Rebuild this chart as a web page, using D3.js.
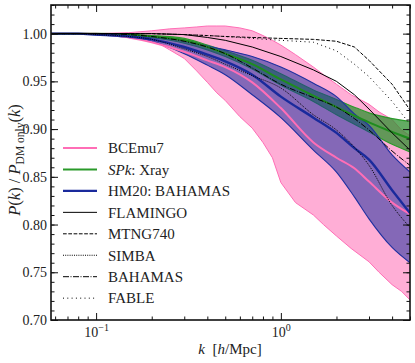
<!DOCTYPE html>
<meta charset="utf-8">
<style>
  body { margin: 0; background: #fff; }
  text { font-family: "Liberation Serif", "Times New Roman", serif; fill: #222; }
  .axis path { display: none; }
  .axis line { stroke: #111; stroke-width: 1; }
</style>
<body>
<svg id="chart" width="415" height="363"></svg>
<script src="https://cdn.jsdelivr.net/npm/d3@7/dist/d3.min.js"></script>
<script>
// k grid shared by the model bands and simulation curves
var kGrid = [0.057, 0.08, 0.1, 0.15, 0.2, 0.3, 0.4, 0.5, 0.7, 1.0, 1.5, 2.0, 2.5, 3.0, 4.0, 5.0];

// SP(k) Xray band
var spkHi  = [1.000, 1.000, 1.000, 0.999, 0.998, 0.995, 0.988, 0.982, 0.972, 0.958, 0.941, 0.931, 0.923, 0.917, 0.911, 0.908];
var spkMid = [1.000, 1.000, 1.000, 0.999, 0.997, 0.993, 0.986, 0.979, 0.968, 0.952, 0.935, 0.923, 0.914, 0.907, 0.897, 0.890];
var spkLo  = [1.000, 1.000, 1.000, 0.998, 0.996, 0.990, 0.983, 0.976, 0.963, 0.946, 0.929, 0.915, 0.905, 0.897, 0.884, 0.876];

// HM20 BAHAMAS band
var hmHi  = [1.000, 1.000, 0.999, 0.998, 0.996, 0.993, 0.987, 0.983, 0.976, 0.965, 0.948, 0.934, 0.916, 0.904, 0.873, 0.855];
var hmMid = [1.000, 1.000, 0.999, 0.997, 0.994, 0.986, 0.978, 0.971, 0.957, 0.934, 0.912, 0.896, 0.880, 0.868, 0.836, 0.812];
var hmLo  = [1.000, 1.000, 0.999, 0.996, 0.992, 0.979, 0.967, 0.957, 0.936, 0.912, 0.878, 0.855, 0.829, 0.806, 0.776, 0.760];

// BCEmu7 median line
var bceMid = [1.000, 1.000, 1.000, 0.996, 0.991, 0.981, 0.972, 0.965, 0.949, 0.922, 0.886, 0.870, 0.859, 0.845, 0.823, 0.811];

// hydro simulations
var flamingo = [1.000, 1.000, 1.000, 1.000, 1.000, 0.999, 0.996, 0.993, 0.986, 0.976, 0.962, 0.950, 0.936, 0.921, 0.896, 0.878];
var mtng     = [1.000, 1.000, 1.000, 1.000, 1.000, 0.999, 0.998, 0.997, 0.996, 0.995, 0.994, 0.992, 0.986, 0.972, 0.947, 0.920];
var simba    = [1.000, 1.000, 0.999, 0.997, 0.994, 0.984, 0.976, 0.968, 0.956, 0.943, 0.915, 0.899, 0.881, 0.862, 0.820, 0.797];
var bahamas  = [1.000, 1.000, 1.000, 0.999, 0.997, 0.992, 0.986, 0.979, 0.964, 0.947, 0.933, 0.923, 0.911, 0.899, 0.877, 0.862];
var fable    = [1.000, 1.000, 1.000, 1.000, 1.000, 0.999, 0.998, 0.997, 0.995, 0.993, 0.991, 0.982, 0.968, 0.955, 0.929, 0.905];

// BCEmu7 envelope, its own k grid
var bceK  = [0.057, 0.1, 0.15, 0.2, 0.25, 0.3, 0.35, 0.4, 0.45, 0.5, 0.6, 0.7, 0.8, 0.9, 1.0, 1.2, 1.5, 1.7, 2.0, 2.4, 3.0, 3.4, 4.0, 4.5, 5.0];
var bceHi = [1.000, 1.000, 1.001, 1.003, 1.005, 1.006, 1.007, 1.008, 1.008, 1.008, 1.006, 1.003, 0.998, 0.993, 0.988, 0.978, 0.965, 0.957, 0.947, 0.936, 0.926, 0.918, 0.910, 0.899, 0.893];
var bceLo = [1.000, 0.999, 0.997, 0.994, 0.983, 0.974, 0.961, 0.949, 0.938, 0.930, 0.913, 0.901, 0.886, 0.870, 0.844, 0.823, 0.810, 0.800, 0.788, 0.775, 0.761, 0.750, 0.737, 0.730, 0.721];

var yTicks = [0.70, 0.75, 0.80, 0.85, 0.90, 0.95, 1.00];
var xTicks = [0.1, 1];
var xTickExp = ["\u22121", "0"];

var svg = d3.select("#chart"),
    pLeft = 51, pRight = 410, pTop = 5, pBottom = 320;

var x = d3.scaleLog().domain([0.057, 5]).range([pLeft, pRight]);
var y = d3.scaleLinear().domain([0.70, 1.03]).range([pBottom, pTop]);

function pairs(ks, vs) { return ks.map(function(k, i) { return [k, vs[i]]; }); }
function band(ks, lo, hi) { return ks.map(function(k, i) { return {k: k, lo: lo[i], hi: hi[i]}; }); }

var area = d3.area()
    .x(function(d) { return x(d.k); })
    .y0(function(d) { return y(d.lo); })
    .y1(function(d) { return y(d.hi); });
var areaSmooth = d3.area()
    .curve(d3.curveMonotoneX)
    .x(function(d) { return x(d.k); })
    .y0(function(d) { return y(d.lo); })
    .y1(function(d) { return y(d.hi); });
var line = d3.line()
    .x(function(d) { return x(d[0]); })
    .y(function(d) { return y(d[1]); });
var lineSmooth = d3.line()
    .curve(d3.curveMonotoneX)
    .x(function(d) { return x(d[0]); })
    .y(function(d) { return y(d[1]); });

svg.append("clipPath").attr("id", "clip")
  .append("rect").attr("x", pLeft).attr("y", pTop)
  .attr("width", pRight - pLeft).attr("height", pBottom - pTop);

var g = svg.append("g").attr("clip-path", "url(#clip)");

// bands
g.append("path").datum(band(bceK, bceLo, bceHi))
  .attr("d", area).attr("fill", "#ffaed6");
g.append("path").datum(pairs(bceK, bceHi)).attr("d", line)
  .attr("fill", "none").attr("stroke", "#ff6eb6").attr("stroke-width", 1);
g.append("path").datum(pairs(bceK, bceLo)).attr("d", line)
  .attr("fill", "none").attr("stroke", "#ff6eb6").attr("stroke-width", 1);

g.append("path").datum(band(kGrid, spkLo, spkHi))
  .attr("d", areaSmooth).attr("fill", "#2f8f2f").attr("fill-opacity", 0.75);
[spkHi, spkLo].forEach(function(s) {
  g.append("path").datum(pairs(kGrid, s)).attr("d", lineSmooth)
    .attr("fill", "none").attr("stroke", "#2a9a2a").attr("stroke-width", 1.1);
});

g.append("path").datum(band(kGrid, hmLo, hmHi))
  .attr("d", areaSmooth).attr("fill", "#1f2f9f").attr("fill-opacity", 0.55);
[hmHi, hmLo].forEach(function(s) {
  g.append("path").datum(pairs(kGrid, s)).attr("d", lineSmooth)
    .attr("fill", "none").attr("stroke", "#1e2fa0").attr("stroke-width", 1.1);
});

// median lines
g.append("path").datum(pairs(kGrid, bceMid)).attr("d", lineSmooth)
  .attr("fill", "none").attr("stroke", "#ff6eb6").attr("stroke-width", 2);
g.append("path").datum(pairs(kGrid, spkMid)).attr("d", lineSmooth)
  .attr("fill", "none").attr("stroke", "#1e8c1e").attr("stroke-width", 2);
g.append("path").datum(pairs(kGrid, hmMid)).attr("d", lineSmooth)
  .attr("fill", "none").attr("stroke", "#1a2a9c").attr("stroke-width", 2.4);

// simulations
var sims = [
  {name: "FLAMINGO", vals: flamingo, dash: null,          smooth: false},
  {name: "MTNG740",  vals: mtng,     dash: "3.7,1.6",     smooth: false},
  {name: "SIMBA",    vals: simba,    dash: "1,1.2",       smooth: true},
  {name: "BAHAMAS",  vals: bahamas,  dash: "6,1.5,1,1.5", smooth: true},
  {name: "FABLE",    vals: fable,    dash: "1,3.3",       smooth: false}
];
sims.forEach(function(s) {
  g.append("path").datum(pairs(kGrid, s.vals))
    .attr("d", s.smooth ? lineSmooth : line)
    .attr("fill", "none").attr("stroke", "#000").attr("stroke-width", 1)
    .attr("stroke-dasharray", s.dash);
});

// axes, ticks pointing inwards on all four sides
var yMinor = d3.range(0.70, 1.0301, 0.01);
var xMinor = [0.06, 0.07, 0.08, 0.09, 0.2, 0.3, 0.4, 0.5, 0.6, 0.7, 0.8, 0.9, 2, 3, 4, 5];

function addAxis(axis, tx, ty) {
  return svg.append("g").attr("class", "axis")
    .attr("transform", "translate(" + tx + "," + ty + ")").call(axis);
}
addAxis(d3.axisLeft(y).tickValues(yMinor).tickSize(-3.5).tickFormat(""), pLeft, 0);
addAxis(d3.axisRight(y).tickValues(yMinor).tickSize(-3.5).tickFormat(""), pRight, 0);
addAxis(d3.axisRight(y).tickValues(yTicks).tickSize(-7).tickFormat(""), pRight, 0);
var yAx = addAxis(d3.axisLeft(y).tickValues(yTicks).tickSize(-7).tickPadding(4).tickFormat(d3.format(".2f")), pLeft, 0);
yAx.selectAll("text").attr("font-size", 14).attr("fill", "#222");

addAxis(d3.axisBottom(x).tickValues(xMinor).tickSize(-3.5).tickFormat(""), 0, pBottom);
addAxis(d3.axisTop(x).tickValues(xMinor).tickSize(-3.5).tickFormat(""), 0, pTop);
addAxis(d3.axisTop(x).tickValues(xTicks).tickSize(-7).tickFormat(""), 0, pTop);
var xAx = addAxis(d3.axisBottom(x).tickValues(xTicks).tickSize(-7).tickFormat(""), 0, pBottom);
xAx.selectAll(".tick").each(function(d, i) {
  var t = d3.select(this).append("text")
    .attr("y", 17).attr("text-anchor", "middle").attr("font-size", 14)
    .attr("fill", "#222");
  t.append("tspan").text("10");
  t.append("tspan").attr("dy", -6).attr("font-size", 10).text(xTickExp[i]);
});

svg.append("rect").attr("x", pLeft).attr("y", pTop)
  .attr("width", pRight - pLeft).attr("height", pBottom - pTop)
  .attr("fill", "none").attr("stroke", "#111").attr("stroke-width", 1.6);

// axis labels
var xl = svg.append("text").attr("x", 230).attr("y", 354)
  .attr("text-anchor", "middle").attr("font-size", 15);
xl.append("tspan").attr("font-style", "italic").text("k");
xl.append("tspan").text("\u00a0\u00a0[");
xl.append("tspan").attr("font-style", "italic").text("h");
xl.append("tspan").text("/Mpc]");

var yl = svg.append("text").attr("transform", "translate(20,160) rotate(-90)")
  .attr("text-anchor", "middle").attr("font-size", 16.5);
yl.append("tspan").attr("font-style", "italic").text("P");
yl.append("tspan").text("(");
yl.append("tspan").attr("font-style", "italic").text("k");
yl.append("tspan").text(")\u00a0/\u00a0");
yl.append("tspan").attr("font-style", "italic").text("P");
yl.append("tspan").attr("dy", 3.5).attr("font-size", 11.5).text("DM\u00a0only");
yl.append("tspan").attr("dy", -3.5).text("(");
yl.append("tspan").attr("font-style", "italic").text("k");
yl.append("tspan").text(")");

// legend
var legend = [
  {label: ["BCEmu7"],          color: "#ff6eb6", width: 2,   dash: null},
  {label: ["SPk", ": Xray"],   color: "#2a9a2a", width: 2,   dash: null},
  {label: ["HM20: BAHAMAS"],   color: "#1a2a9c", width: 2.4, dash: null},
  {label: ["FLAMINGO"],        color: "#000",    width: 1,   dash: null},
  {label: ["MTNG740"],         color: "#000",    width: 1,   dash: "3.7,1.6"},
  {label: ["SIMBA"],           color: "#000",    width: 1,   dash: "1,1.2"},
  {label: ["BAHAMAS"],         color: "#000",    width: 1,   dash: "6,1.5,1,1.5"},
  {label: ["FABLE"],           color: "#000",    width: 1,   dash: "1,3.3"}
];
var leg = svg.append("g").selectAll("g").data(legend).enter().append("g")
  .attr("transform", function(d, i) { return "translate(0," + (148 + i * 21.45) + ")"; });
leg.append("line").attr("x1", 63).attr("x2", 97)
  .attr("stroke", function(d) { return d.color; })
  .attr("stroke-width", function(d) { return d.width; })
  .attr("stroke-dasharray", function(d) { return d.dash; });
leg.append("text").attr("x", 108).attr("dy", "0.35em").attr("font-size", 15)
  .each(function(d) {
    var t = d3.select(this);
    if (d.label.length > 1) {
      t.append("tspan").attr("font-style", "italic").text(d.label[0]);
      t.append("tspan").text(d.label[1]);
    } else {
      t.text(d.label[0]);
    }
  });
</script>
</body>
